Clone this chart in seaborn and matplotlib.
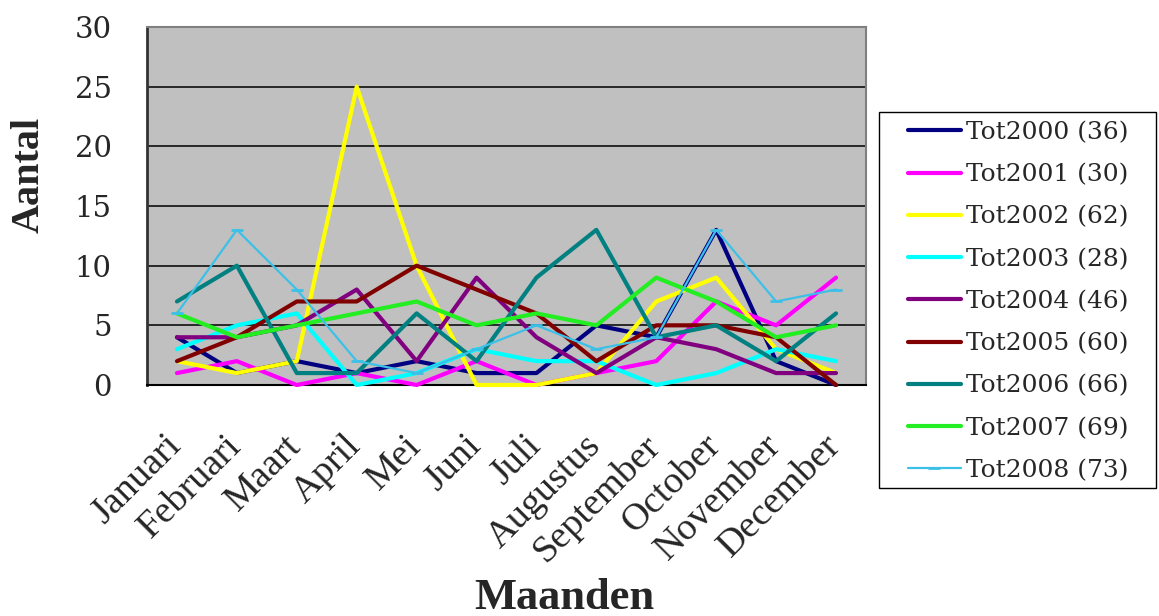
import matplotlib
matplotlib.use('Agg')
import matplotlib.pyplot as plt
import matplotlib.transforms as mtransforms
from matplotlib.patches import Rectangle
import numpy as np
import seaborn as sns

months = ['Januari', 'Februari', 'Maart', 'April', 'Mei', 'Juni', 'Juli',
          'Augustus', 'September', 'October', 'November', 'December']
tot2000 = [4, 1, 2, 1, 2, 1, 1, 5, 4, 13, 2, 0]
tot2001 = [1, 2, 0, 1, 0, 2, 0, 1, 2, 7, 5, 9]
tot2002 = [2, 1, 2, 25, 10, 0, 0, 1, 7, 9, 3, 1]
tot2003 = [3, 5, 6, 0, 1, 3, 2, 2, 0, 1, 3, 2]
tot2004 = [4, 4, 5, 8, 2, 9, 4, 1, 4, 3, 1, 1]
tot2005 = [2, 4, 7, 7, 10, 8, 6, 2, 5, 5, 4, 0]
tot2006 = [7, 10, 1, 1, 6, 2, 9, 13, 4, 5, 2, 6]
tot2007 = [6, 4, 5, 6, 7, 5, 6, 5, 9, 7, 4, 5]
tot2008 = [6, 13, 8, 2, 1, 3, 5, 3, 4, 13, 7, 8]
series_labels = ['Tot2000 (36)', 'Tot2001 (30)', 'Tot2002 (62)', 'Tot2003 (28)',
                 'Tot2004 (46)', 'Tot2005 (60)', 'Tot2006 (66)', 'Tot2007 (69)',
                 'Tot2008 (73)']
series_values = [tot2000, tot2001, tot2002, tot2003, tot2004, tot2005,
                 tot2006, tot2007, tot2008]
series_colors = ['#000080', '#FF00FF', '#FFFF00', '#00FFFF', '#800080',
                 '#800000', '#008080', '#22EE22', '#3CC0E8']
y_ticks = [0, 5, 10, 15, 20, 25, 30]

sns.set_style('white')
fig = plt.figure(figsize=(11.59, 6.16), dpi=100)
L, R, T, B = 147, 866, 27, 385
W, H = 1159, 616
ax = fig.add_axes([L / W, 1 - B / H, (R - L) / W, (B - T) / H])
ax.set_facecolor('#C0C0C0')

x = np.arange(len(months))
for lab, vals, col in zip(series_labels, series_values, series_colors):
    if lab.startswith('Tot2008'):
        sns.lineplot(x=x, y=vals, ax=ax, color=col, linewidth=1.6, label=lab,
                     marker='_', markersize=9, markeredgewidth=2,
                     markeredgecolor=col, sort=False, zorder=3, clip_on=False)
    else:
        sns.lineplot(x=x, y=vals, ax=ax, color=col, linewidth=3.0, label=lab,
                     sort=False, zorder=3, clip_on=False)

ax.set_xlim(-0.5, 11.5)
ax.set_ylim(0, 30)
ax.set_yticks(y_ticks)
ax.set_yticklabels([str(v) for v in y_ticks], fontsize=21, family='DejaVu Serif')
ax.tick_params(axis='y', direction='out', length=9.4, width=1.2, pad=16, color='black')
ax.yaxis.grid(True, color='black', linewidth=1.1)
ax.set_axisbelow(True)

ax.set_xticks(x)
ax.set_xticklabels(months, rotation=45, ha='right', va='center',
                   rotation_mode='anchor', fontsize=27.5, family='Liberation Serif')
ax.tick_params(axis='x', which='major', length=0, pad=40)
ax.set_xticks(np.arange(-0.5, 12, 1), minor=True)
ax.tick_params(axis='x', which='minor', direction='out', length=9.4, width=1.2, color='black')
off = mtransforms.ScaledTranslation(-1 / 100, 0, fig.dpi_scale_trans)
for t in ax.get_xticklabels():
    t.set_transform(t.get_transform() + off)

ax.set_xlabel('')
ax.set_ylabel('')
for s in ['top', 'right']:
    ax.spines[s].set_color('#808080')
    ax.spines[s].set_linewidth(1.5)
ax.spines['left'].set_color('#333333')
ax.spines['left'].set_linewidth(2)
ax.spines['bottom'].set_color('black')
ax.spines['bottom'].set_linewidth(1.5)

handles, labels = ax.get_legend_handles_labels()
ax.get_legend().remove()
fig.legend(handles, labels, loc='upper left',
           bbox_to_anchor=(908 / W, 1 - 121 / H), frameon=False,
           prop={'family': 'DejaVu Serif', 'size': 18}, borderpad=0,
           handlelength=2.1, handletextpad=0.2, labelspacing=0.77,
           borderaxespad=0)
fig.add_artist(Rectangle((879 / W, 1 - 488 / H), (1156 - 879) / W, (488 - 112) / H,
                         transform=fig.transFigure, fill=False,
                         edgecolor='black', linewidth=1))

fig.text(29 / W, 1 - 175 / H, 'Aantal', rotation=90, ha='center', va='center',
         fontsize=29, fontweight='bold', family='Liberation Serif')
fig.text(564 / W, 1 - 598 / H, 'Maanden', ha='center', va='center',
         fontsize=32, fontweight='bold', family='Liberation Serif')

fig.savefig('out.png', dpi=100)
